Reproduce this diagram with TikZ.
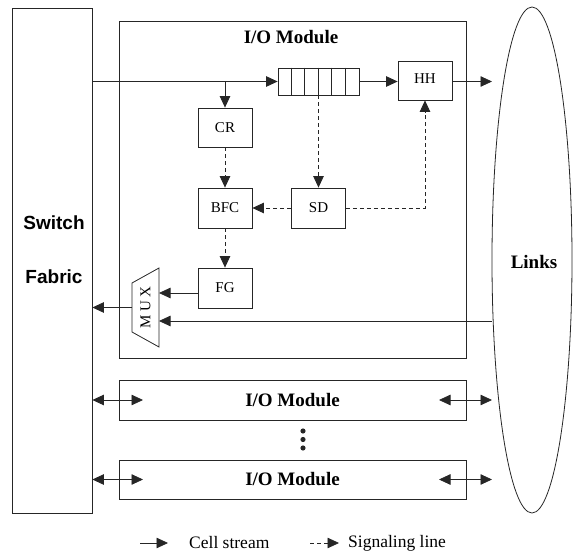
\documentclass[tikz,border=0pt]{standalone}
\usepackage{fontspec}
\setmainfont{Liberation Serif}
\newfontfamily\headsans{Liberation Sans}
\usetikzlibrary{arrows.meta,calc}

\tikzset{
  ln/.style={draw=black!85, line width=0.8pt},
  box/.style={ln, rectangle, inner sep=0pt, minimum width=54pt, minimum height=39pt,
    font=\fontsize{15}{17}\selectfont},
  tip/.style={Triangle[length=11.5pt,width=10.5pt]},
  cell/.style={ln, -{Triangle[length=11.5pt,width=10.5pt]}},
  sig/.style={ln, dash pattern=on 4pt off 3pt, -{Triangle[length=11.5pt,width=10.5pt]}},
  both/.style={ln, {Triangle[length=11.5pt,width=10.5pt]}-{Triangle[length=11.5pt,width=10.5pt]}},
  title/.style={inner sep=0pt, font=\fontsize{19}{22}\selectfont\bfseries},
  legend/.style={inner sep=0pt, anchor=west, font=\fontsize{17.5}{20}\selectfont},
}

\begin{document}
\begin{tikzpicture}[x=1pt, y=-1pt]
\useasboundingbox (0,0) rectangle (574,554);

% switch fabric
\node[ln, rectangle, minimum width=80pt, minimum height=505pt, inner sep=0pt] (sw) at (52,260.5) {};
\node[inner sep=0pt, font=\fontsize{19}{22}\selectfont\headsans\bfseries] (swt) at (54,223) {Switch};
\node[inner sep=0pt, font=\fontsize{19}{22}\selectfont\headsans\bfseries] (fab) at (54,277) {Fabric};

% links
\draw[ln] (532,260) ellipse [x radius=40, y radius=253];
\coordinate (lk) at (492,260);
\node[title] (lkt) at (534,262) {Links};

% main I/O module
\node[ln, rectangle, minimum width=347pt, minimum height=337pt, inner sep=0pt] (io1) at (292.5,189.5) {};
\node[title] (io1t) at (291,37) {I/O Module};

% cell queue
\node[ln, rectangle, minimum width=81pt, minimum height=27pt, inner sep=0pt] (q) at (318.5,81.5) {};
\foreach \i in {1,...,5}
  \draw[ln] ($(q.north west)+(13.5*\i,0)$) -- ($(q.south west)+(13.5*\i,0)$);

% function blocks
\node[box] (hh) at (425,80.5) {\raisebox{4pt}{HH}};
\node[box] (cr) at (225,127.5) {CR};
\node[box, minimum height=40pt] (bfc) at (225,208) {BFC};
\node[box, minimum height=40pt] (sd) at (318.5,208) {SD};
\node[box, minimum height=40pt] (fg) at (225,288) {FG};

% multiplexer
\coordinate (m1) at (132,283);
\coordinate (m2) at (159,268);
\coordinate (m3) at (159,347);
\coordinate (m4) at (132,332);
\draw[ln] (m1) -- (m2) -- (m3) -- (m4) -- cycle;
\node[inner sep=0pt, rotate=90, font=\fontsize{15}{17}\selectfont] (mux) at (145.5,307.5) {M U X};
\coordinate (mo) at (132,307.5);
\coordinate (fgin) at ($(fg.west)+(0,5)$);

% cell stream
\draw[cell] (sw.east |- q.west) -- (q.west);
\draw[cell] (cr.north |- q.west) -- (cr.north);
\draw[cell] (q.east) -- (hh.west |- q.east);
\draw[cell] (hh.east |- q.east) -- (lk |- q.east);
\draw[cell] (fgin) -- (m2 |- fgin);
\draw[cell] (lk |- 0,321) -- (m2 |- 0,321);
\draw[cell] (mo) -- (sw.east |- mo);

% signaling
\draw[sig] (q.south) -- (sd.north);
\draw[sig] (sd.east) -| (hh.south);
\draw[sig] (sd.west) -- (bfc.east);
\draw[sig] (cr.south) -- (bfc.north);
\draw[sig] (bfc.south) -- (fg.north);

% further I/O modules
\node[ln, rectangle, minimum width=347pt, minimum height=40pt, inner sep=0pt, title] (io2) at (292.5,400) {I/O Module};
\node[ln, rectangle, minimum width=347pt, minimum height=39pt, inner sep=0pt, title] (io3) at (292.5,479.5) {I/O Module};
\draw[both] (sw.east |- io2.west) -- (143,400);
\draw[both] (439,400) -- (lk |- io2.east);
\draw[both] (sw.east |- io3.west) -- (143,479.5);
\draw[both] (439,479.5) -- (lk |- io3.east);
\foreach \y [count=\k] in {431,439.5,448}
  \fill[black!85] (303,\y) circle (2.6pt) coordinate (dot\k);

% legend
\coordinate (la) at (140,543);
\coordinate (lb) at (168,543);
\draw[cell] (la) -- (lb);
\node[legend] (lc) at (189,543) {Cell stream};
\coordinate (ld) at (310,543);
\coordinate (le) at (339,543);
\draw[sig] (ld) -- (le);
\node[legend] (lf) at (348,543) {Signaling line};
\end{tikzpicture}
\end{document}
